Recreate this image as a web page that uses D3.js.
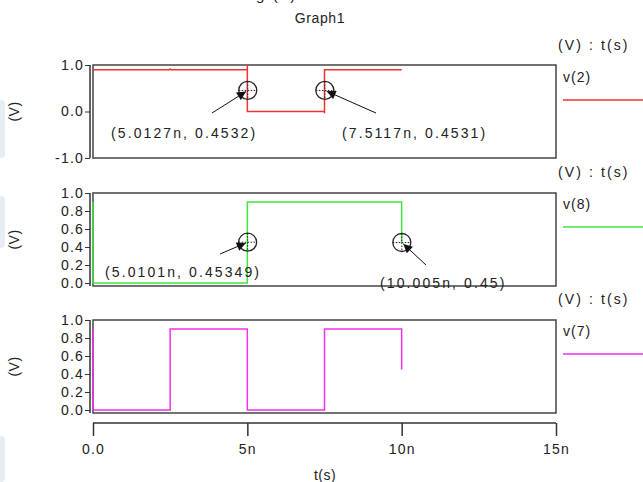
<!DOCTYPE html>
<html><head><meta charset="utf-8">
<script src="https://cdn.jsdelivr.net/npm/d3@7"></script>
<style>
body{margin:0;background:#fff;}
svg{display:block;font-family:"Liberation Sans",Arial,sans-serif;}
text{letter-spacing:2.1px;}
</style></head>
<body><svg id="c" width="643" height="482"></svg>
<script>
// ---- data (time in ns, voltage in V) ----
const xTicks = [0, 5, 10, 15];
const xTickLabels = ["0.0", "5n", "10n", "15n"];
const names = ["v(2)", "v(8)", "v(7)"];
const colors = ["#f23232", "#3fe63f", "#f032f0"];
const v2T = [0, 2.5, 2.5, 2.5, 5, 5, 5, 7.5, 7.5, 7.5, 10];
const v2V = [0.9, 0.9, 0.93, 0.9, 0.9, 1.0, 0, 0, -0.04, 0.9, 0.9];
const v8T = [0, 0, 5, 5, 10, 10];
const v8V = [0.9, 0, 0, 0.9, 0.9, 0.45];
const v7T = [0, 0, 2.5, 2.5, 5, 5, 7.5, 7.5, 10, 10];
const v7V = [0.9, 0, 0, 0.9, 0.9, 0, 0, 0.9, 0.9, 0.45];
const yTicks1 = [-1, 0, 1];
const yTicks2 = [0, 0.2, 0.4, 0.6, 0.8, 1.0];
const yTicks3 = [0, 0.2, 0.4, 0.6, 0.8, 1.0];
const cursor1T = [5.0127, 7.5117], cursor1V = [0.4532, 0.4531];
const cursor2T = [5.0101, 10.005], cursor2V = [0.45349, 0.45];
const cursorLabels1 = ["(5.0127n, 0.4532)", "(7.5117n, 0.4531)"];
const cursorLabels2 = ["(5.0101n, 0.45349)", "(10.005n, 0.45)"];

// ---- layout ----
const svg = d3.select("#c");
const x = d3.scaleLinear().domain([0, 15]).range([93, 556]);
const panels = [
  {T: v2T, V: v2V, dom: [-1, 1], rng: [158, 65], ticks: yTicks1, top: 65, bot: 158, leg: 50,
   cT: cursor1T, cV: cursor1V, cL: cursorLabels1,
   lab: [{lx: 111, ly: 138, ax: 212, ay: 113}, {lx: 342, ly: 138, ax: 376, ay: 113}]},
  {T: v8T, V: v8V, dom: [-0.033, 1], rng: [286, 193], ticks: yTicks2, top: 193, bot: 286, leg: 177,
   cT: cursor2T, cV: cursor2V, cL: cursorLabels2,
   lab: [{lx: 105, ly: 277, ax: 220, ay: 254}, {lx: 380, ly: 288, ax: 426, ay: 265}]},
  {T: v7T, V: v7V, dom: [-0.033, 1], rng: [413, 320], ticks: yTicks3, top: 320, bot: 413, leg: 304,
   cT: [], cV: [], cL: [], lab: []}
];
const FS = 14;
const fmt = d => d3.format(".1f")(d).replace("\u2212", "-");

// faint background artefacts on the left edge
[[100, 58], [196, 52], [436, 46]].forEach(([yy, h]) =>
  svg.append("rect").attr("x", -4).attr("y", yy).attr("width", 9).attr("height", h)
    .attr("rx", 4).attr("fill", "#e7edf2"));

// titles
svg.append("text").attr("x", 268).attr("y", 0).attr("text-anchor", "middle")
  .attr("font-size", 15).attr("fill", "#222").text("Sig (a)");
svg.append("text").attr("x", 320).attr("y", 23).attr("text-anchor", "middle")
  .attr("font-size", FS).attr("fill", "#222").style("letter-spacing", "0.6px").text("Graph1");

const defs = svg.append("defs");
defs.append("marker").attr("id", "ah").attr("viewBox", "0 0 10 10").attr("refX", 10).attr("refY", 5)
  .attr("markerWidth", 11).attr("markerHeight", 9).attr("markerUnits", "userSpaceOnUse")
  .attr("orient", "auto")
  .append("path").attr("d", "M0,0 L10,5 L0,10 Z").attr("fill", "#111");

panels.forEach((p, i) => {
  const y = d3.scaleLinear().domain(p.dom).range(p.rng);
  const g = svg.append("g");
  // axis
  const ax = d3.axisLeft(y).tickValues(p.ticks).tickFormat(fmt).tickSize(5).tickPadding(1);
  const ag = g.append("g").attr("transform", "translate(90,0)").call(ax);
  ag.select(".domain").attr("d", `M-0,${p.top}V${p.bot}`).attr("stroke", "#333").attr("stroke-width", 1.5);
  ag.selectAll(".tick line").attr("stroke", "#333");
  ag.selectAll(".tick text").attr("font-size", FS).attr("fill", "#222")
    .attr("font-family", "Liberation Sans, Arial, sans-serif").style("letter-spacing", "1.2px");
  // box
  g.append("rect").attr("x", 93).attr("y", p.top).attr("width", 556 - 93).attr("height", p.bot - p.top)
    .attr("fill", "none").attr("stroke", "#444").attr("stroke-width", 1.5);
  // y label
  const cy = (p.top + p.bot) / 2;
  g.append("text").attr("transform", `translate(19,${cy}) rotate(-90)`).attr("text-anchor", "middle")
    .attr("font-size", FS).attr("fill", "#222").style("letter-spacing", "0.5px").text("(V)");
  // series
  const line = d3.line().x((d, k) => x(p.T[k])).y(d => y(d));
  g.append("path").datum(p.V).attr("d", line).attr("fill", "none")
    .attr("stroke", colors[i]).attr("stroke-width", 1.5);
  // legend
  g.append("text").attr("x", 558).attr("y", p.leg).attr("font-size", FS).attr("fill", "#222").text("(V) : t(s)");
  g.append("text").attr("x", 563).attr("y", p.leg + 32).attr("font-size", FS).attr("fill", "#222")
    .style("letter-spacing", "1px").text(names[i]);
  g.append("line").attr("x1", 563).attr("x2", 643).attr("y1", p.leg + 50).attr("y2", p.leg + 50)
    .attr("stroke", colors[i]).attr("stroke-width", 1.5);
  // cursors
  p.cT.forEach((t, k) => {
    const mx = x(t), my = y(p.cV[k]);
    const cg = g.append("g");
    cg.append("circle").attr("cx", mx).attr("cy", my).attr("r", 9).attr("fill", "none")
      .attr("stroke", "#222").attr("stroke-width", 1.3);
    cg.append("line").attr("x1", mx).attr("x2", mx).attr("y1", my - 9).attr("y2", my + 9)
      .attr("stroke", "#222").attr("stroke-dasharray", "1.5,1.5");
    cg.append("line").attr("x1", mx - 9).attr("x2", mx + 9).attr("y1", my).attr("y2", my)
      .attr("stroke", "#222").attr("stroke-dasharray", "1.5,1.5");
    const L = p.lab[k];
    const dx = mx - L.ax, dy = my - L.ay, len = Math.hypot(dx, dy);
    cg.append("line").attr("x1", L.ax).attr("y1", L.ay)
      .attr("x2", mx - dx / len * 2).attr("y2", my - dy / len * 2)
      .attr("stroke", "#111").attr("stroke-width", 1).attr("marker-end", "url(#ah)");
    cg.append("text").attr("x", L.lx).attr("y", L.ly).attr("font-size", FS).attr("fill", "#222")
      .text(p.cL[k]);
  });
});

// shared x axis
const xa = d3.axisBottom(x).tickValues(xTicks).tickFormat((d, k) => xTickLabels[k]).tickSize(13).tickPadding(8);
const xg = svg.append("g").attr("transform", "translate(0,423)").call(xa);
xg.select(".domain").attr("d", "M93,0H556").attr("stroke", "#333").attr("stroke-width", 1.5);
xg.selectAll(".tick line").attr("stroke", "#333").attr("stroke-width", 1.5);
xg.selectAll(".tick text").attr("font-size", FS).attr("fill", "#222")
  .attr("font-family", "Liberation Sans, Arial, sans-serif").style("letter-spacing", "1.2px");
svg.append("text").attr("x", 325).attr("y", 480).attr("text-anchor", "middle")
  .attr("font-size", FS).attr("fill", "#222").style("letter-spacing", "0.5px").text("t(s)");
</script></body></html>
